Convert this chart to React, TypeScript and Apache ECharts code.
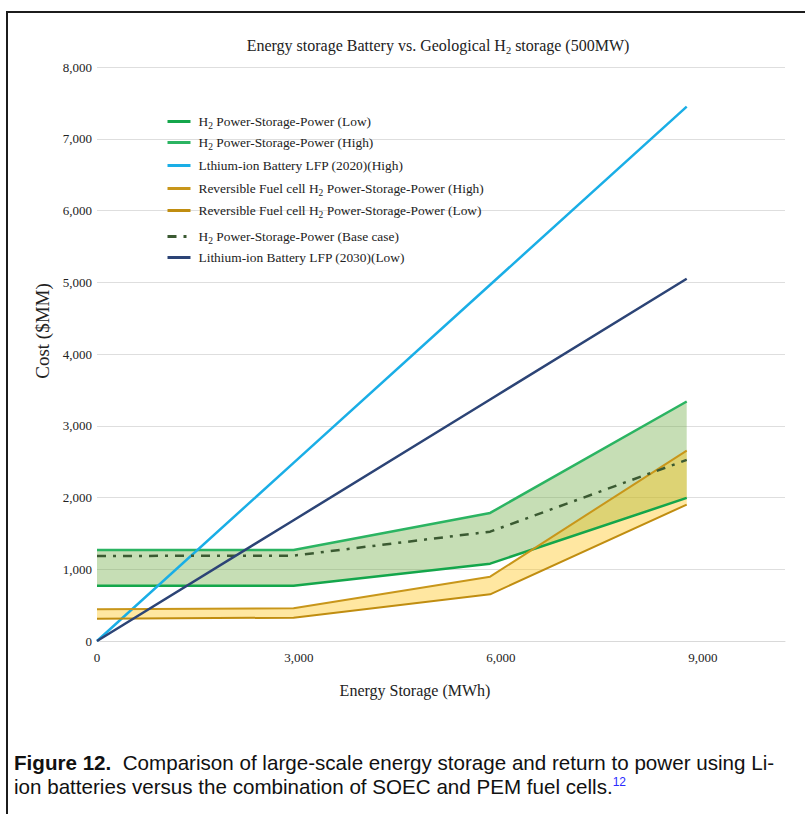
import React, { useEffect, useRef } from 'react';
import * as echarts from 'echarts';

// ---- data ----
const xStorage = [0, 2920, 5840, 8760];
const h2Low = [771, 771, 1078, 1994];
const h2High = [1269, 1269, 1785, 3338];
const h2Base = [1185, 1190, 1524, 2524];
const rfcHigh = [442, 456, 897, 2654];
const rfcLow = [311, 325, 651, 1901];
const li2020High = [0, 2483, 4965, 7448];
const li2030Low = [0, 1683, 3366, 5049];

const seriesNames = [
  'H2 Power-Storage-Power (Low)',
  'H2 Power-Storage-Power (High)',
  'Lthium-ion Battery LFP (2020)(High)',
  'Reversible Fuel cell H2 Power-Storage-Power (High)',
  'Reversible Fuel cell H2 Power-Storage-Power (Low)',
  'H2 Power-Storage-Power (Base case)',
  'Lithium-ion Battery LFP (2030)(Low)',
];
const seriesValues = [h2Low, h2High, li2020High, rfcHigh, rfcLow, h2Base, li2030Low];
const seriesColors = ['#14a64b', '#2bb462', '#1aaee6', '#c8961a', '#c08d10', '#3b5a32', '#2c4476'];
const seriesWidths = [2.5, 2.5, 2.5, 2, 2, 2.5, 2.5];
const legendCenters = [122, 143, 166, 189, 211, 237, 258];

const X_MIN = 0;
const X_MAX = 10220;
const X_INTERVAL = 3000;
const Y_MIN = 0;
const Y_MAX = 8000;
const Y_INTERVAL = 1000;

const SERIF = '"Liberation Serif", "Times New Roman", serif';

const subRich = {
  s: { fontSize: 9.5, padding: [9, 0, 0, 0], fontFamily: SERIF, color: '#222' },
};

function toRich(name: string) {
  return name.replace(/H2 /g, 'H{s|2} ');
}

function bandSeries(high: number[], low: number[], fill: string) {
  return {
    type: 'custom',
    silent: true,
    z: 1,
    data: [[0, 0]],
    renderItem: (_params: any, api: any) => {
      const pts: number[][] = [];
      xStorage.forEach((x, i) => pts.push(api.coord([x, high[i]])));
      for (let i = xStorage.length - 1; i >= 0; i--) pts.push(api.coord([xStorage[i], low[i]]));
      return { type: 'polygon', shape: { points: pts }, style: { fill } };
    },
  };
}

export default function App() {
  const ref = useRef<HTMLDivElement>(null);

  useEffect(() => {
    if (!ref.current) return;
    const chart = echarts.init(ref.current, null, { renderer: 'svg' });

    const lineSeries = seriesNames.map((name, i) => ({
      type: 'line',
      name,
      data: xStorage.map((x, j) => [x, seriesValues[i][j]]),
      symbol: 'none',
      showSymbol: false,
      z: 3,
      itemStyle: { color: seriesColors[i] },
      lineStyle: {
        color: seriesColors[i],
        width: seriesWidths[i],
        type: i === 5 ? [9, 7, 3, 7] : 'solid',
      },
    }));

    const legends = seriesNames.map((name, i) => ({
      data: [name],
      left: 166,
      top: legendCenters[i] - 7,
      orient: 'vertical',
      padding: 0,
      itemGap: 0,
      itemWidth: 23,
      itemHeight: 14,
      selectedMode: false,
      itemStyle: { color: 'rgba(0,0,0,0)', borderColor: 'rgba(0,0,0,0)', borderWidth: 0, opacity: 0 },
      lineStyle: { width: 3 },
      formatter: (n: string) => toRich(n),
      textStyle: {
        fontFamily: SERIF,
        fontSize: 13.4,
        color: '#222',
        padding: [0, 0, 0, 3],
        rich: subRich,
      },
    }));

    chart.setOption({
      animation: false,
      title: {
        text: 'Energy storage Battery vs. Geological H{s|2} storage (500MW)',
        left: 438,
        top: 35,
        textAlign: 'center',
        padding: 0,
        textStyle: {
          fontFamily: SERIF,
          fontSize: 16,
          fontWeight: 'normal',
          color: '#222',
          lineHeight: 21,
          rich: { s: { fontSize: 10.5, lineHeight: 9, verticalAlign: 'bottom', fontFamily: SERIF, color: '#222' } },
        },
      },
      legend: legends,
      grid: { left: 97, right: 20, top: 67, height: 574, containLabel: false },
      xAxis: {
        type: 'value',
        min: X_MIN,
        max: X_MAX,
        interval: X_INTERVAL,
        axisLine: { show: true, lineStyle: { color: '#d9d9d9', width: 1 } },
        axisTick: { show: false },
        splitLine: { show: false },
        axisLabel: {
          showMaxLabel: false,
          margin: 10,
          color: '#222',
          fontFamily: SERIF,
          fontSize: 13,
          formatter: (v: number) => v.toLocaleString('en-US'),
        },
      },
      yAxis: {
        type: 'value',
        min: Y_MIN,
        max: Y_MAX,
        interval: Y_INTERVAL,
        axisLine: { show: false },
        axisTick: { show: false },
        splitLine: { lineStyle: { color: '#dedede', width: 1 } },
        axisLabel: {
          margin: 5,
          color: '#222',
          fontFamily: SERIF,
          fontSize: 13,
          formatter: (v: number) => v.toLocaleString('en-US'),
        },
      },
      graphic: [
        {
          type: 'text',
          x: 42,
          y: 331,
          rotation: Math.PI / 2,
          style: {
            text: 'Cost ($MM)',
            font: `19px ${SERIF}`,
            fill: '#222',
            textAlign: 'center',
            textVerticalAlign: 'middle',
          },
        },
        {
          type: 'text',
          x: 415,
          y: 690,
          style: {
            text: 'Energy Storage (MWh)',
            font: `16px ${SERIF}`,
            fill: '#222',
            textAlign: 'center',
            textVerticalAlign: 'middle',
          },
        },
      ],
      series: [
        bandSeries(h2High, h2Low, 'rgba(112,173,71,0.40)'),
        bandSeries(rfcHigh, rfcLow, 'rgba(255,196,20,0.40)'),
        ...lineSeries,
      ],
    });

    return () => chart.dispose();
  }, []);

  const capStyle: React.CSSProperties = {
    position: 'fixed',
    left: 14,
    fontFamily: '"Liberation Sans", Arial, sans-serif',
    fontSize: 20.6,
    lineHeight: '24px',
    color: '#111',
    whiteSpace: 'nowrap',
  };

  return (
    <div>
      <div
        style={{
          position: 'fixed',
          left: 6,
          top: 11,
          right: -10,
          bottom: -10,
          border: '2px solid #1c1c1c',
          background: '#fff',
        }}
      />
      <div ref={ref} style={{ position: 'fixed', left: 0, top: 0, width: 805, height: 720 }} />
      <div style={{ ...capStyle, top: 751 }}>
        <b>Figure 12.</b>&nbsp; Comparison of large-scale energy storage and return to power using Li-
      </div>
      <div style={{ ...capStyle, top: 775 }}>
        ion batteries versus the combination of SOEC and PEM fuel cells.
        <sup style={{ color: '#2a2aff', fontSize: 12, verticalAlign: 'super', lineHeight: 0 }}>12</sup>
      </div>
    </div>
  );
}
